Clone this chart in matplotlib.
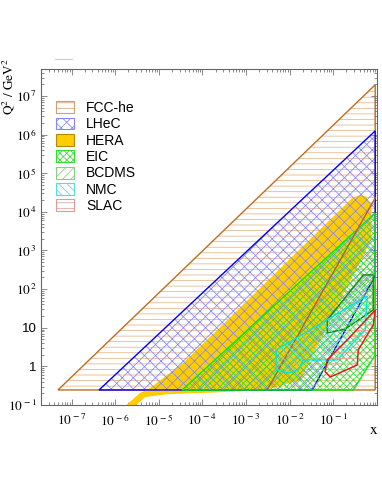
import numpy as np
import matplotlib
matplotlib.use("Agg")
import matplotlib.pyplot as plt
from matplotlib.patches import Polygon, Patch
from matplotlib.lines import Line2D
from matplotlib.ticker import FixedLocator, LogLocator, FuncFormatter, NullFormatter

plt.rcParams["mathtext.fontset"] = "stix"
plt.rcParams["font.family"] = ["Liberation Sans", "DejaVu Sans"]
plt.rcParams["hatch.linewidth"] = 0.55

# kinematic regions, (x, Q2) vertices
fcc_x = [4.9e-8, 0.91, 0.91]
fcc_q2 = [0.245, 0.245, 1.95e7]

lhec_x = [4.27e-7, 0.0328, 0.91, 0.91]
lhec_q2 = [0.245, 0.245, 220, 1.25e6]

hera_x = [1.2e-6, 3.72e-6, 6.3e-6, 3.6e-5, 1.5e-4, 0.187, 0.271, 0.414, 0.568, 0.74,
          0.74, 0.144, 0.0174, 2.74e-3, 1.76e-4, 1.55e-5, 4.85e-6, 2.0e-6]
hera_q2 = [0.066, 0.205, 0.275, 1.22, 5.8, 1.52e4, 2.31e4, 2.75e4, 2.45e4, 1.52e4,
           1.88e3, 52.5, 0.44, 0.245, 0.21, 0.19, 0.16, 0.066]

# extra y-cut line drawn in FCC colour
cut_x = [3.04e-3, 0.91]
cut_q2 = [0.245, 2.31e4]

eic_x = [3.42e-5, 0.91, 0.91, 0.286]
eic_q2 = [0.245, 9.4e3, 1.97, 0.245]

bcdms_x = [0.0724, 0.0724, 0.187, 0.82, 0.82, 0.484]
bcdms_q2 = [15.9, 7.3, 9.3, 28.9, 233, 233]

nmc_x = [4.9e-3, 4.9e-3, 9.2e-3, 0.0157, 0.0204, 0.123, 0.538, 0.598]
nmc_q2 = [2.66, 0.81, 0.675, 0.81, 1.47, 1.47, 8.8, 66.7]

slac_x = [0.91, 0.82, 0.372, 0.353, 0.0848, 0.065, 0.0724, 0.208]
slac_q2 = [28.9, 11.8, 2.66, 1.09, 0.53, 0.72, 1.47, 4.83]

names = ["FCC-he", "LHeC", "HERA", "EIC", "BCDMS", "NMC", "SLAC"]
x_major = [1e-7, 1e-6, 1e-5, 1e-4, 1e-3, 1e-2, 1e-1]
y_major = [1e-1, 1, 10, 1e2, 1e3, 1e4, 1e5, 1e6, 1e7]

fig = plt.figure(figsize=(3.82, 4.94), dpi=100)
ax = fig.add_axes([41 / 382, 1 - 405 / 494, 336 / 382, 336 / 494])
ax.set_xscale("log")
ax.set_yscale("log")
ax.set_xlim(2e-8, 1)
ax.set_ylim(0.1, 5e7)


def region(xs, ys, hatch, hcol, lcol, z):
    pts = np.column_stack([xs, ys])
    ax.add_patch(Polygon(pts, closed=True, facecolor="none", edgecolor=hcol,
                         hatch=hatch, linewidth=0, zorder=z))
    ax.add_patch(Polygon(pts, closed=True, fill=False, edgecolor=lcol,
                         linewidth=1.0, zorder=z + 0.5))


region(fcc_x, fcc_q2, "---", "#e2b487", "#c06d1c", 1)
ax.add_patch(Polygon(np.column_stack([hera_x, hera_q2]), closed=True,
                     facecolor="#ffcc00", edgecolor="none", zorder=2))
region(lhec_x, lhec_q2, "xxx", "#8585ff", "#0000ff", 3)
region(eic_x, eic_q2, "xxxxx", "#33dd33", "#00ee00", 4)
ax.plot(cut_x, cut_q2, color="#b0642a", lw=1.0, zorder=5)
region(bcdms_x, bcdms_q2, "////", "#66cc66", "#118811", 6)
region(nmc_x, nmc_q2, "\\\\\\\\", "#44eeee", "#00e5e5", 7)
region(slac_x, slac_q2, "---", "#ff9c9c", "#ee1111", 8)

# axes style
for s in ax.spines.values():
    s.set_color("#666666")
    s.set_linewidth(0.8)
ax.xaxis.set_major_locator(FixedLocator(x_major))
ax.yaxis.set_major_locator(FixedLocator(y_major))
ax.xaxis.set_minor_locator(LogLocator(base=10, subs=np.arange(2, 10), numticks=20))
ax.yaxis.set_minor_locator(LogLocator(base=10, subs=np.arange(2, 10), numticks=20))


def fmt(v, pos):
    e = int(round(np.log10(v)))
    if e == 0:
        return "1"
    if e == 1:
        return "10"
    return r"$10^{\,%d}$" % e


ax.xaxis.set_major_formatter(FuncFormatter(fmt))
ax.yaxis.set_major_formatter(FuncFormatter(fmt))
ax.xaxis.set_minor_formatter(NullFormatter())
ax.yaxis.set_minor_formatter(NullFormatter())
ax.tick_params(which="both", direction="in", top=True, right=True,
               color="#777777", width=0.6, labelsize=9.5, labelcolor="black")
ax.tick_params(which="major", length=4.5)
ax.tick_params(which="minor", length=2.3)
ax.tick_params(axis="x", pad=6)
ax.tick_params(axis="y", pad=3)

# legend
handles = [
    Patch(facecolor="white", edgecolor="#d0a070", hatch="---", lw=0.8),
    Patch(facecolor="white", edgecolor="#8585ff", hatch="xxx", lw=0.8),
    Patch(facecolor="#ffcc00", edgecolor="#b08a00", lw=0.8),
    Patch(facecolor="white", edgecolor="#33dd33", hatch="xxxxx", lw=0.8),
    Patch(facecolor="white", edgecolor="#88cc88", hatch="////", lw=0.8),
    Patch(facecolor="white", edgecolor="#55dddd", hatch="\\\\\\\\", lw=0.8),
    Patch(facecolor="white", edgecolor="#e09a9a", hatch="---", lw=0.8),
]
ax.legend(handles, names, loc="upper left", bbox_to_anchor=(0.045, 0.905),
          frameon=False, fontsize=10, handlelength=1.3, handleheight=0.95,
          handletextpad=0.85, labelspacing=0.17, borderpad=0, borderaxespad=0)

fig.text(9 / 382, 1 - 87 / 494, r"$\mathrm{Q^2\ /\ GeV^2}$", rotation=90,
         ha="center", va="center", fontsize=9.5)
fig.text(374 / 382, 1 - 430 / 494, r"$\mathrm{x}$", ha="center", va="center",
         fontsize=11)
fig.add_artist(Line2D([55 / 382, 72 / 382], [1 - 59 / 494, 1 - 59 / 494],
                      color="#cccccc", lw=0.8))

fig.savefig("out.png", dpi=100)
